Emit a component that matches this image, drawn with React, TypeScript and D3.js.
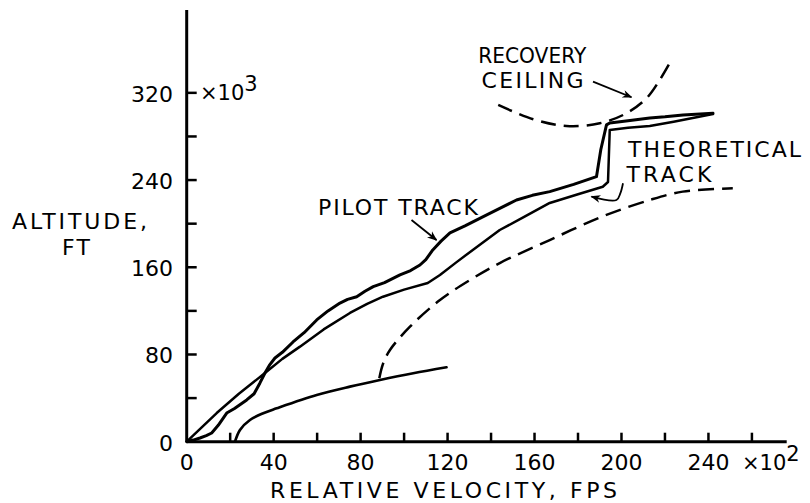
import * as d3 from 'd3';
import React from 'react';

type Pt = [number, number];

// axis ticks (velocity in 10^2 fps, altitude in 10^3 ft)
const xTicks = [20, 40, 60, 80, 100, 120, 140, 160, 180, 200, 220, 240, 260];
const xTickLabels = [0, 40, 80, 120, 160, 200, 240];
const yTicks = [40, 80, 120, 160, 200, 240, 280, 320];
const yTickLabels = [0, 80, 160, 240, 320];

// wavy measured track
const pilotTrack: Pt[] = [
  [0, 0], [3, 1.5], [6.1, 3.4], [9, 5.5], [11.5, 8], [14.5, 15], [18.4, 26.3], [22, 30.5],
  [27.6, 38.3], [31, 44], [33.7, 53.9], [36, 63], [38, 70], [40.6, 76.8], [44, 82],
  [48.9, 91.5], [54, 100], [59.8, 111.7], [65, 120], [70.5, 127.2], [74, 130.5],
  [78.2, 133], [82, 138], [85.8, 142.2], [91, 146], [98.1, 153], [103, 157],
  [107.3, 162.1], [110, 167], [113.2, 175.9], [117, 184], [121.1, 191.5], [128, 198],
  [136.2, 206.2], [144, 214], [151.7, 221.7], [159, 226], [167, 229.4], [178, 236],
  [188.5, 243.1], [190.5, 268], [193.1, 290.6], [194.6, 292.4], [203, 294.5],
  [213, 297], [220, 298], [228.3, 299.7], [242.1, 301.3],
];

const theoreticalTrack: Pt[] = [
  [0, 0], [13.8, 26.3], [24, 44], [36, 63], [44, 76], [52.1, 87.2], [63, 103],
  [75.1, 118.1], [83, 126.5], [90.3, 133], [100, 139.5], [110.9, 145.6], [116.5, 152.9],
  [124, 164.5], [131.6, 175.9], [144, 194.2], [155, 206], [167, 219], [180, 227],
  [191.4, 233.9], [193.8, 238.2], [194.6, 286], [203, 288], [213, 289.6], [224, 293.5],
  [234.5, 297.6], [242.1, 300.6],
];

const lowerTrack: Pt[] = [
  [22.2, 0], [24.5, 10.8], [29.1, 19.9], [35.2, 26.1], [41.4, 30.6], [59.8, 42.8],
  [75.1, 50.5], [88.9, 56.6], [104.2, 62.8], [119.5, 68.3],
];

const dashedTrack: Pt[] = [
  [88.6, 58.2], [90.4, 71.9], [93.5, 84.1], [102.7, 105.5], [116.5, 130], [130.3, 148.3],
  [144, 163.9], [167, 185], [191, 206.4], [213, 221.7], [228.2, 229.4], [251.2, 232.5],
];

const recoveryCeiling: Pt[] = [
  [143.3, 308.9], [159.4, 295.8], [174.7, 289.6], [190, 292.1], [202.3, 301.3],
  [211.5, 315], [217.6, 331.8], [223, 350.2],
];

// annotation anchors, data units
const ceilingArrow: Pt[] = [[186.9, 330.3], [204.6, 316]];
const theoArrow: Pt[] = [[200.7, 237.1], [199.5, 228], [197.7, 221.7], [186.2, 224.8]];
const pilotArrow: Pt[] = [[103.4, 203.4], [114.9, 185]];

const W = 810;
const H = 503;
const font = '"DejaVu Sans", sans-serif';

const App: React.FC = () => {
  const x = d3.scaleLinear().domain([0, 276]).range([186.7, 786.7]);
  const y = d3.scaleLinear().domain([0, 396]).range([441.7, 10]);

  const line = d3.line<Pt>().x(d => x(d[0])).y(d => y(d[1]));
  const smooth = d3.line<Pt>().x(d => x(d[0])).y(d => y(d[1])).curve(d3.curveCatmullRom);

  const txt = (s: string, px: number, py: number, len: number, size = 22, adj = 'spacing') => (
    <text x={px} y={py} fontSize={size} textLength={len} lengthAdjust={adj}>{s}</text>
  );

  return (
    <svg width={W} height={H} style={{ position: 'absolute', left: 0, top: 0, background: '#fff' }}
      fontFamily={font} fill="#000">
      <defs>
        <marker id="arr" viewBox="0 0 10 10" refX="9" refY="5" markerWidth="10" markerHeight="10"
          orient="auto" markerUnits="userSpaceOnUse">
          <path d="M0,1 L10,5 L0,9 L3,5 Z" fill="#000" />
        </marker>
      </defs>

      {/* axes */}
      <g stroke="#000" strokeWidth={3} fill="none">
        <line x1={x(0)} x2={x(0)} y1={y(0)} y2={y(396)} />
        <line x1={x(0)} x2={x(276)} y1={y(0)} y2={y(0)} />
        {xTicks.map(t => <line key={'xt' + t} x1={x(t)} x2={x(t)} y1={y(0)} y2={y(0) - 9} strokeWidth={2.5} />)}
        {yTicks.map(t => <line key={'yt' + t} x1={x(0)} x2={x(0) + 10} y1={y(t)} y2={y(t)} strokeWidth={2.5} />)}
      </g>

      {xTickLabels.map(t => (
        <text key={'xl' + t} x={x(t)} y={470} fontSize={22} textAnchor="middle">{t}</text>
      ))}
      {yTickLabels.map(t => (
        <text key={'yl' + t} x={173} y={y(t) + 9} fontSize={22} textAnchor="end">{t}</text>
      ))}
      <text x={200} y={100} fontSize={21}>×10<tspan dy={-9} fontSize={21}>3</tspan></text>
      <text x={742} y={470} fontSize={21}>×10<tspan dy={-9} fontSize={21}>2</tspan></text>

      {txt('ALTITUDE,', 12, 229, 135)}
      {txt('FT', 62, 255, 28)}
      {txt('RELATIVE VELOCITY, FPS', 270, 498, 347)}

      {/* curves */}
      <g fill="none" stroke="#000" strokeLinejoin="round" strokeLinecap="round">
        <path d={line(pilotTrack) ?? ''} strokeWidth={3} />
        <path d={line(theoreticalTrack) ?? ''} strokeWidth={2.5} />
        <path d={smooth(lowerTrack) ?? ''} strokeWidth={2.7} />
        <path d={smooth(dashedTrack) ?? ''} strokeWidth={2.5} strokeDasharray="16 8" strokeLinecap="butt" />
        <path d={smooth(recoveryCeiling) ?? ''} strokeWidth={2.5} strokeDasharray="15 8" strokeLinecap="butt" />
      </g>

      {/* annotations */}
      {txt('RECOVERY', x(134.1), y(347.2), 108, 22, 'spacingAndGlyphs')}
      {txt('CEILING', x(135.6), y(324.2), 102)}
      {txt('THEORETICAL', x(203), y(261.5), 173)}
      {txt('TRACK', x(202.3), y(238.5), 85)}
      {txt('PILOT TRACK', x(60.4), y(208), 160)}
      <g fill="none" stroke="#000" strokeWidth={1.8}>
        <path d={line(ceilingArrow) ?? ''} markerEnd="url(#arr)" />
        <path d={smooth(theoArrow) ?? ''} markerEnd="url(#arr)" />
        <path d={line(pilotArrow) ?? ''} markerEnd="url(#arr)" />
      </g>
    </svg>
  );
};

export default App;
